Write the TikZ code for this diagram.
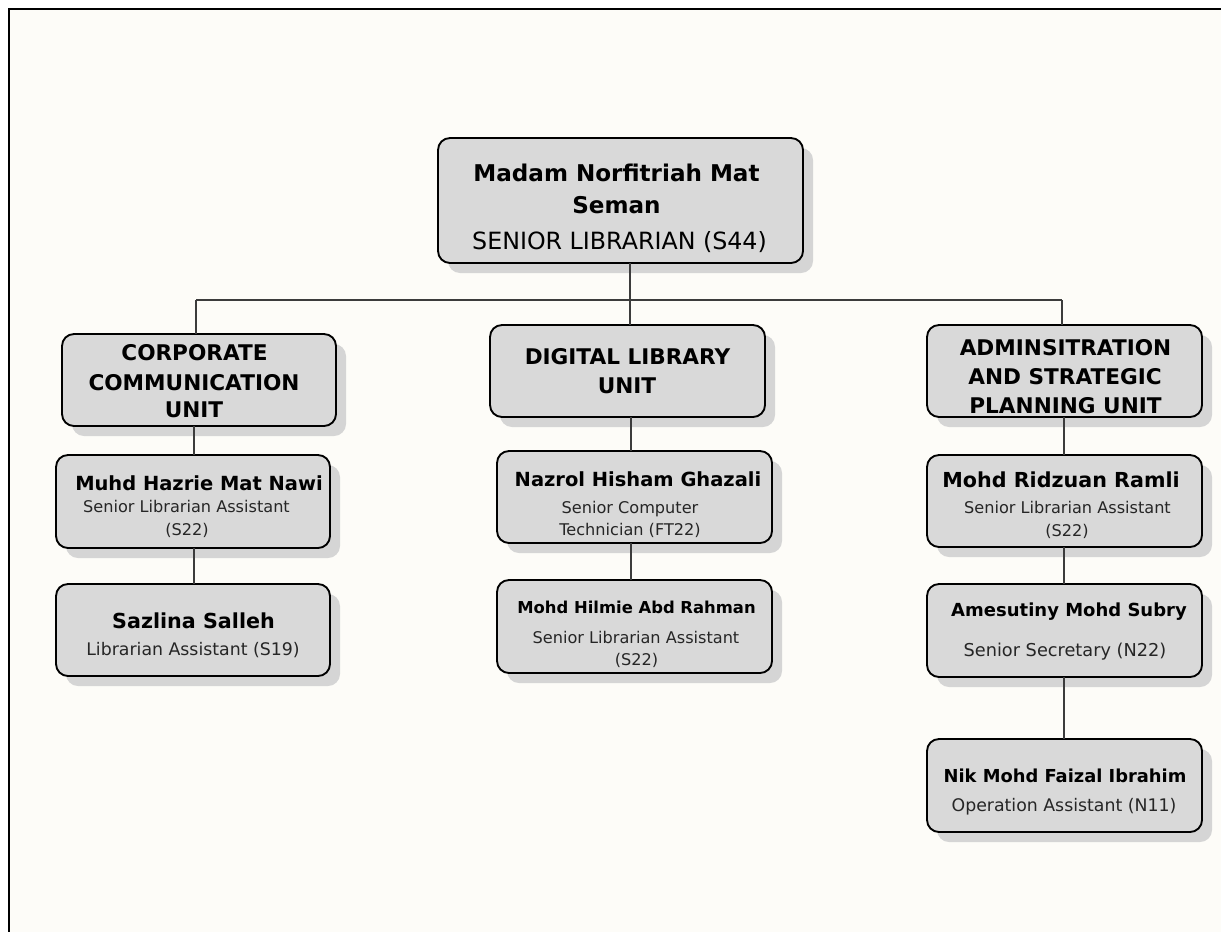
\documentclass[tikz,border=0pt]{standalone}
\usepackage{fontspec}
\setmainfont{DejaVu Sans}
\usetikzlibrary{shadows}

\definecolor{paper}{HTML}{FDFCF8}
\definecolor{boxgray}{HTML}{D9D9D9}
\definecolor{shadegray}{HTML}{D5D5D5}
\definecolor{wire}{HTML}{3C3C3C}
\definecolor{subtext}{HTML}{262626}

\newcommand\fs[1]{\fontsize{#1}{#1}\selectfont}

% a card: name, left, top, right, bottom (pixel-like units)
\newcommand\card[5]{%
  \node[card, minimum width={(#4-#2)*0.75pt}, minimum height={(#5-#3)*0.75pt}]
    (#1) at ({(#2+#4)/2},{(#3+#5)/2}) {};}
% one line of text placed on its baseline: name, x, y, style, text
\newcommand\tline[5]{\node[tl, #4] (#1) at (#2,#3) {#5};}

\tikzset{
  card/.style={draw=black, line width=1.4pt, fill=boxgray, rounded corners=9pt,
    inner sep=0pt, outer sep=0pt,
    drop shadow={shadow xshift=7.5pt, shadow yshift=-7.5pt, fill=shadegray, opacity=1}},
  tl/.style={anchor=base, inner sep=0pt, outer sep=0pt},
  head/.style={font=\bfseries\fs{16.2pt}, text=black},
  nm/.style={font=\bfseries\fs{#1}, text=black},
  sub/.style={font=\fs{#1}, text=subtext},
  link/.style={draw=wire, line width=1.1pt},
  frame/.style={draw=black, line width=2.2pt}
}

\begin{document}
\begin{tikzpicture}[x=0.75pt, y=-0.75pt]
\useasboundingbox (0,0) rectangle (1221,932);
\fill[white] (0,0) rectangle (1221,932);
\fill[paper] (9,9) rectangle (1221,932);
\draw[frame] (1221,9) -- (9,9) -- (9,932);

% head of the library
\card{root}{438}{138}{803}{263}
\tline{root-a}{616.5}{181}{nm=17.3pt}{Madam Norfitriah Mat}
\tline{root-b}{616.5}{213}{nm=17.3pt}{Seman}
\tline{root-c}{619.5}{249}{sub=17.8pt, text=black}{SENIOR LIBRARIAN (S44)}

% units
\card{corp}{62}{334}{336}{426}
\tline{corp-a}{194.5}{360}{head}{CORPORATE}
\tline{corp-b}{194}{390}{head}{COMMUNICATION}
\tline{corp-c}{194}{417}{head}{UNIT}

\card{dig}{490}{325}{765}{417}
\tline{dig-a}{627.5}{364}{head}{DIGITAL LIBRARY}
\tline{dig-b}{627}{393}{head}{UNIT}

\card{adm}{927}{325}{1202}{417}
\tline{adm-a}{1065.5}{355}{head}{ADMINSITRATION}
\tline{adm-b}{1065}{384}{head}{AND STRATEGIC}
\tline{adm-c}{1065.5}{413}{head}{PLANNING UNIT}

% corporate communication staff
\card{muhd}{56}{455}{330}{548}
\tline{muhd-a}{199}{490}{nm=14.6pt}{Muhd Hazrie Mat Nawi}
\tline{muhd-b}{186.5}{512}{sub=12.1pt}{Senior Librarian Assistant}
\tline{muhd-c}{187}{535}{sub=12.1pt}{(S22)}

\card{saz}{56}{584}{330}{676}
\tline{saz-a}{193.5}{628}{nm=15.5pt}{Sazlina Salleh}
\tline{saz-b}{193}{655}{sub=13pt}{Librarian Assistant (S19)}

% digital library staff
\card{naz}{497}{451}{772}{543}
\tline{naz-a}{638}{486}{nm=14.6pt}{Nazrol Hisham Ghazali}
\tline{naz-b}{630}{513}{sub=12.1pt}{Senior Computer}
\tline{naz-c}{630}{535}{sub=12.1pt}{Technician (FT22)}

\card{hil}{497}{580}{772}{673}
\tline{hil-a}{636.5}{613}{nm=12.3pt}{Mohd Hilmie Abd Rahman}
\tline{hil-b}{636}{643}{sub=12.1pt}{Senior Librarian Assistant}
\tline{hil-c}{636.5}{665}{sub=12.1pt}{(S22)}

% administration staff
\card{rid}{927}{455}{1202}{547}
\tline{rid-a}{1061}{487}{nm=15.5pt}{Mohd Ridzuan Ramli}
\tline{rid-b}{1067.5}{513}{sub=12.1pt}{Senior Librarian Assistant}
\tline{rid-c}{1067}{536}{sub=12.1pt}{(S22)}

\card{ame}{927}{584}{1202}{677}
\tline{ame-a}{1069}{616}{nm=13.5pt}{Amesutiny Mohd Subry}
\tline{ame-b}{1065}{656}{sub=13.3pt}{Senior Secretary (N22)}

\card{nik}{927}{739}{1202}{832}
\tline{nik-a}{1065}{782}{nm=13.4pt}{Nik Mohd Faizal Ibrahim}
\tline{nik-b}{1064}{811}{sub=13pt}{Operation Assistant (N11)}

% connectors
\coordinate (bar)  at (630,300);
\coordinate (barL) at (196,300);
\coordinate (barR) at (1062,300);
\coordinate (lx)   at (194,0);
\coordinate (midx) at (631,0);
\coordinate (rx)   at (1064,0);

\draw[link] (barL) -- (barR);
\draw[link] (root.south -| bar) -- (dig.north -| bar);
\draw[link] (barL) -- (corp.north -| barL);
\draw[link] (barR) -- (adm.north -| barR);

\draw[link] (corp.south -| lx) -- (muhd.north -| lx);
\draw[link] (muhd.south -| lx) -- (saz.north -| lx);

\draw[link] (dig.south -| midx) -- (naz.north -| midx);
\draw[link] (naz.south -| midx) -- (hil.north -| midx);

\draw[link] (adm.south -| rx) -- (rid.north -| rx);
\draw[link] (rid.south -| rx) -- (ame.north -| rx);
\draw[link] (ame.south -| rx) -- (nik.north -| rx);
\end{tikzpicture}
\end{document}
